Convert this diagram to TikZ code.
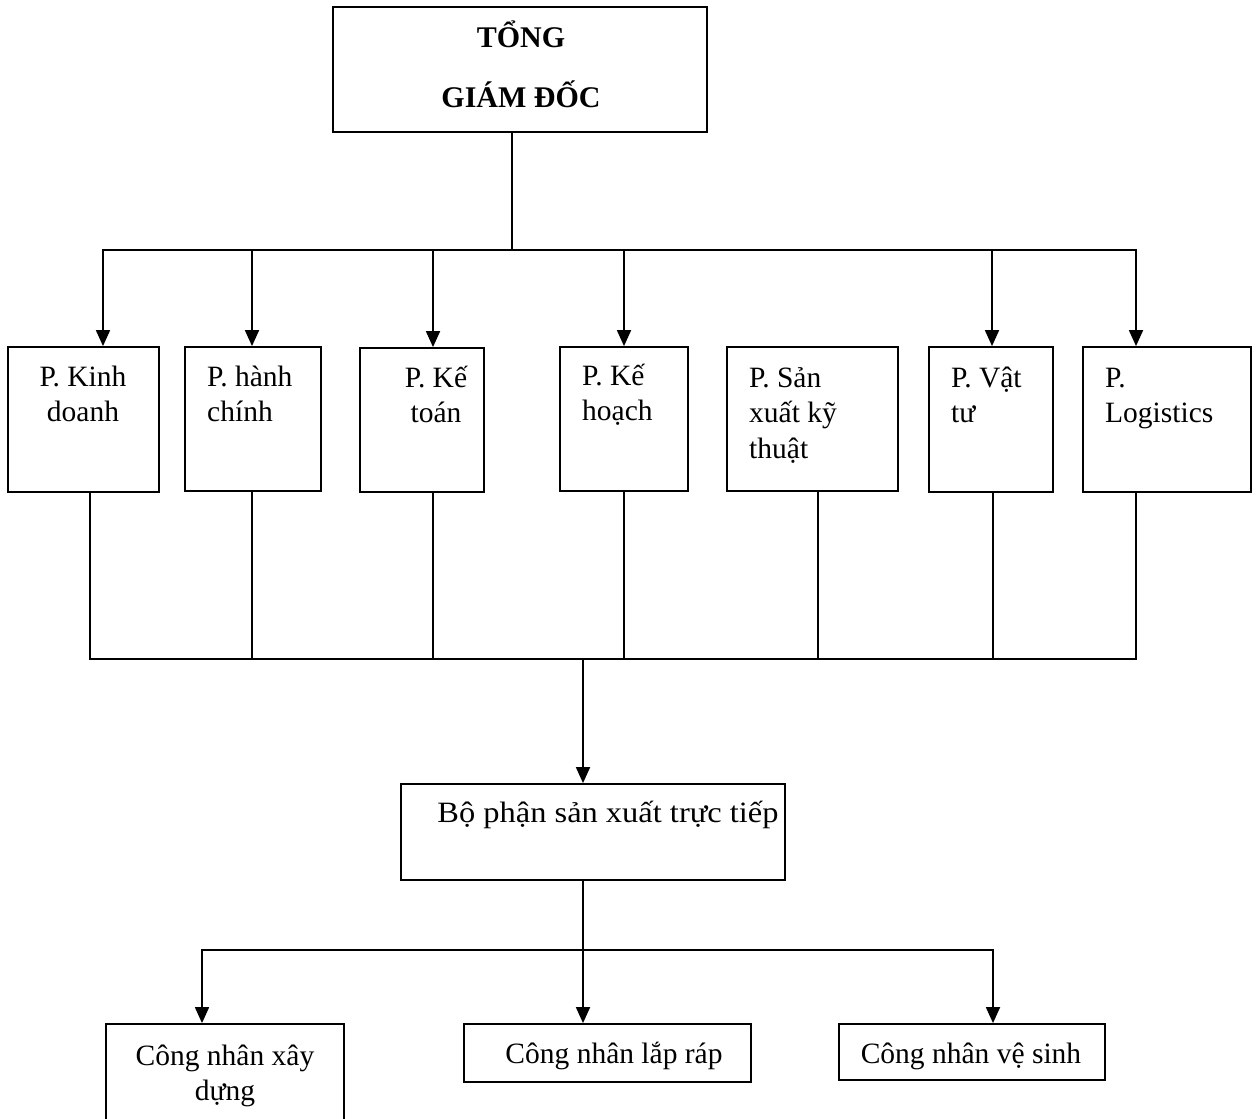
\documentclass[tikz,border=0pt]{standalone}
\usepackage{fontspec}
\setmainfont{Liberation Serif}
\usetikzlibrary{positioning,arrows.meta,fit}
\newcommand{\boxstrut}{\rule{0pt}{32pt}}
\tikzset{
  unit/.style={draw, line width=1.8pt, inner sep=0pt},
  lbl/.style={inner sep=0pt, font=\fontsize{29.5}{35.5}\selectfont},
  feed/.style={-{Triangle[length=16pt,width=14pt]}, line width=1.8pt},
  wire/.style={line width=1.8pt},
}

\begin{document}
\begin{tikzpicture}[x=1pt, y=-1pt, line cap=rect]
  \useasboundingbox (0,0) rectangle (1257,1118);

  % Director
  \node[unit, fit={(333,7) (707,132)}] (gd) {};
  \node[lbl, font=\bfseries\fontsize{30}{60}\selectfont, align=center, anchor=north]
    (gdL) at (521,15) {\boxstrut TỔNG\\GIÁM ĐỐC};

  % Departments
  \node[unit, fit={(8,347) (159,492)}]     (kd) {};
  \node[unit, fit={(185,347) (321,491)}]   (hc) {};
  \node[unit, fit={(360,348) (484,492)}]   (kt) {};
  \node[unit, fit={(560,347) (688,491)}]   (kh) {};
  \node[unit, fit={(727,347) (898,491)}]   (sx) {};
  \node[unit, fit={(929,347) (1053,492)}]  (vt) {};
  \node[unit, fit={(1083,347) (1251,492)}] (lg) {};

  \node[lbl, align=center, anchor=north] (kdL) at (83,354)  {\boxstrut P. Kinh\\doanh};
  \node[lbl, align=left, anchor=north west] (hcL) at (207,354) {\boxstrut P. hành\\chính};
  \node[lbl, align=center, anchor=north] (ktL) at (436,355) {\boxstrut P. Kế\\toán};
  \node[lbl, align=left, anchor=north west] (khL) at (582,353) {\boxstrut P. Kế\\hoạch};
  \node[lbl, align=left, anchor=north west] (sxL) at (749,355) {\boxstrut P. Sản\\xuất kỹ\\thuật};
  \node[lbl, align=left, anchor=north west] (vtL) at (951,355) {\boxstrut P. Vật\\tư};
  \node[lbl, align=left, anchor=north west] (lgL) at (1105,355) {\boxstrut P.\\Logistics};

  % Production unit
  \node[unit, fit={(401,784) (785,880)}] (bp) {};
  \node[lbl, anchor=base] (bpL) at (608,822)
    {\scalebox{1.1}[1]{Bộ phận sản xuất trực tiếp}};

  % Workers
  \node[unit, fit={(106,1024) (344,1140)}] (xd) {};
  \node[unit, fit={(464,1024) (751,1082)}] (lr) {};
  \node[unit, fit={(839,1024) (1105,1080)}] (vs) {};
  \node[lbl, align=center, anchor=north] (xdL) at (225,1033) {\boxstrut Công nhân xây\\dựng};
  \node[lbl, anchor=base] (lrL) at (614,1063) {Công nhân lắp ráp};
  \node[lbl, anchor=base] (vsL) at (971,1063) {Công nhân vệ sinh};

  % Director -> departments
  \coordinate (topbus) at (512,250);
  \draw[wire] (gd.south -| topbus) -- (topbus);
  \draw[wire] (103,250) -- (1136,250);
  \foreach \x/\n in {103/kd, 252/hc, 433/kt, 624/kh, 992/vt, 1136/lg}
    \draw[feed] (\x,250) -- (\x,250 |- \n.north);

  % Departments -> production unit
  \foreach \x/\n in {90/kd, 252/hc, 433/kt, 624/kh, 818/sx, 993/vt, 1136/lg}
    \draw[wire] (\n.south -| \x,0) -- (\x,659);
  \draw[wire] (90,659) -- (1136,659);
  \coordinate (midbus) at (583,659);
  \draw[feed] (midbus) -- (midbus |- bp.north);

  % Production unit -> workers
  \coordinate (lowbus) at (583,950);
  \draw[wire] (bp.south -| lowbus) -- (lowbus);
  \draw[wire] (202,950) -- (993,950);
  \foreach \x/\n in {202/xd, 583/lr, 993/vs}
    \draw[feed] (\x,950) -- (\x,950 |- \n.north);

\end{tikzpicture}
\end{document}
